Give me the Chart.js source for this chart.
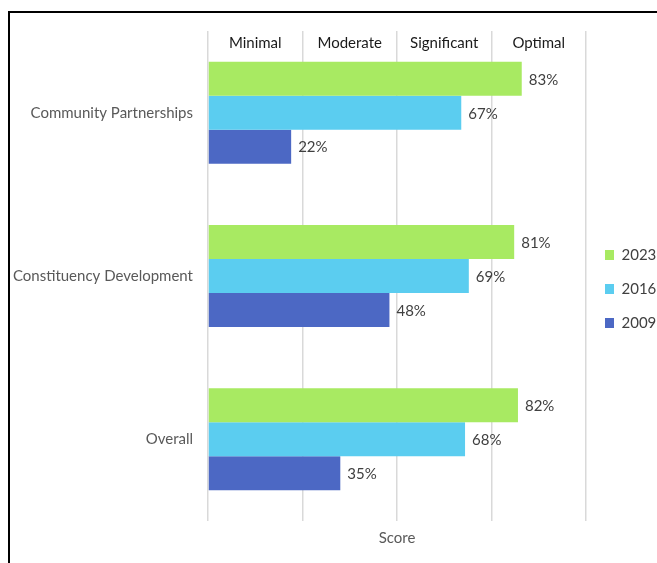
<!DOCTYPE html>
<html>
<head>
<meta charset="utf-8">
<script src="https://cdn.jsdelivr.net/npm/chart.js@4"></script>
<style>
  html, body { margin: 0; padding: 0; background: #fff; overflow: hidden; }
  #wrap { position: relative; width: 657px; height: 563px; }
  #frame {
    position: absolute; left: 8px; top: 11px; width: 700px; height: 600px;
    border-left: 2px solid #000; border-top: 2px solid #000; pointer-events: none;
  }
</style>
</head>
<body>
<div id="wrap">
  <canvas id="scoreChart" width="657" height="563"></canvas>
  <div id="frame"></div>
</div>
<script>
"use strict";

// Scores by area, three survey years

const areas = ["Community Partnerships", "Constituency Development", "Overall"];
const levels = ["Minimal", "Moderate", "Significant", "Optimal"];
const scores2023 = [83, 81, 82];
const scores2016 = [67, 69, 68];
const scores2009 = [22, 48, 35];

const FONT = "Lato, 'Liberation Sans', sans-serif";

// percent labels just past the end of each bar
const valueLabels = {
    id: "valueLabels",
    afterDatasetsDraw(chart) {
        let ctx = chart.ctx;
        ctx.save();
        ctx.font = "15px " + FONT;
        ctx.fillStyle = "#404040";
        ctx.textAlign = "left";
        ctx.textBaseline = "middle";
        chart.data.datasets.forEach(function(ds, i) {
            chart.getDatasetMeta(i).data.forEach(function(bar, j) {
                ctx.fillText(ds.data[j] + "%", bar.x + 7, bar.y + 1);
            });
        });
        ctx.restore();
    }
};

let ctx_score = document.getElementById("scoreChart").getContext("2d");

let scoreChart = new Chart(ctx_score, {
    type: "bar",
    data: {
        labels: areas,
        datasets: [
            { label: "2023", data: scores2023, backgroundColor: "#a8ea62" },
            { label: "2016", data: scores2016, backgroundColor: "#5bcdf0" },
            { label: "2009", data: scores2009, backgroundColor: "#4c68c4" }
        ]
    },
    plugins: [valueLabels],
    options: {
        indexAxis: "y",
        responsive: false,
        animation: false,
        layout: { padding: { top: 31, left: 0, right: 0, bottom: 16 } },
        datasets: {
            bar: { categoryPercentage: 0.624, barPercentage: 1.0 }
        },
        scales: {
            x: {
                position: "bottom",
                min: 0,
                max: 100,
                ticks: { stepSize: 25, display: false },
                grid: { color: "#d9d9d9", lineWidth: 1.5, drawTicks: false },
                border: { display: false },
                title: {
                    display: true,
                    text: "Score",
                    color: "#595959",
                    font: { family: FONT, size: 15 },
                    padding: 0
                },
                afterFit: function(scale) { scale.height = 26; }
            },
            x2: {
                type: "category",
                position: "top",
                labels: levels,
                offset: true,
                grid: { display: false, drawTicks: false },
                border: { display: false },
                ticks: {
                    color: "#1a1a1a",
                    mirror: true,
                    padding: 3,
                    autoSkip: false,
                    maxRotation: 0,
                    font: { family: FONT, size: 15 }
                },
                afterFit: function(scale) { scale.height = 0; }
            },
            y: {
                grid: { display: false, drawTicks: false },
                border: { display: false },
                ticks: {
                    color: "#595959",
                    padding: 15,
                    font: { family: FONT, size: 15 }
                },
                afterFit: function(scale) { scale.width = 208; }
            }
        },
        plugins: {
            legend: {
                position: "right",
                maxWidth: 71,
                labels: {
                    boxWidth: 9,
                    boxHeight: 10,
                    padding: 19,
                    color: "#404040",
                    font: { family: FONT, size: 15 }
                }
            },
            tooltip: { enabled: false }
        }
    }
});
</script>
</body>
</html>
